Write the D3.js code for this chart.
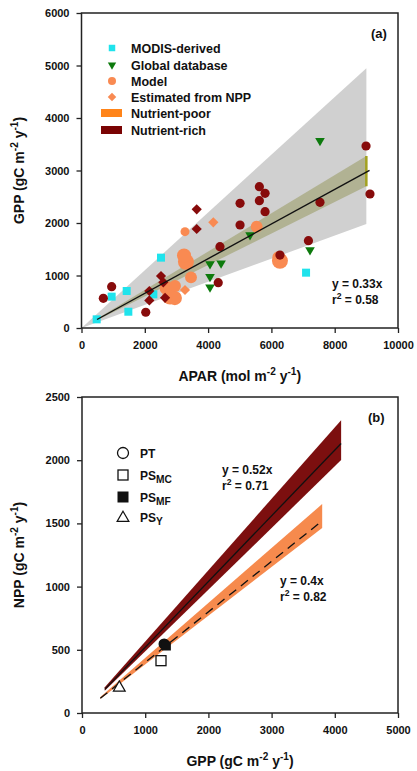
<!DOCTYPE html>
<html>
<head>
<meta charset="utf-8">
<script src="https://cdn.jsdelivr.net/npm/d3@7"></script>
<style>
  body { margin: 0; background: #fff; }
  text { font-family: "Liberation Sans", Arial, sans-serif; font-weight: bold; fill: #111; }
</style>
</head>
<body>
<svg id="chart" width="417" height="771"></svg>
<script>
// ---- panel (a) data: APAR (mol m-2 y-1), GPP (gC m-2 y-1)
const modisPts = [[480, 165], [953, 597], [1428, 705], [1480, 310], [2512, 1340], [2270, 641], [7095, 1054]];
const globalPts = [[7535, 3549], [5325, 1752], [4060, 1200], [4410, 1213], [4060, 958], [4060, 756], [7220, 1467]];
// model, nutrient-poor: [APAR, GPP, n]
const modelPoor = [[3270, 1835, 1], [3300, 1260, 4], [3240, 1380, 3], [3460, 965, 2], [2690, 760, 3],
  [2800, 600, 4], [2950, 570, 3], [2955, 800, 2], [6270, 1280, 4], [6220, 1350, 2], [5535, 1930, 2]];
const modelRich = [[690, 565], [953, 787], [2030, 300], [5620, 2692], [5800, 2565], [5620, 2425], [5800, 2216],
  [5010, 2375], [5010, 1962], [4375, 1549], [4320, 863], [6270, 1390], [7170, 1663], [7535, 2394],
  [9115, 2552], [8990, 3467]];
const nppPoor = [[4165, 2013], [3270, 724]];
const nppRich = [[3640, 2261], [3640, 1886], [2512, 990], [2585, 870], [2143, 705], [2143, 525], [2640, 575]];
const fitA = { slope: 0.33, r2: 0.58, from: 490, to: 9100 };
const predA = [0.22, 0.55];   // prediction fan slopes
const ciA = [0.30, 0.364];    // confidence band slopes
const bandEndA = 9000;

// ---- panel (b) data: GPP, NPP
const ptPts = [[1300, 545]];
const psMC = [[1250, 414]];
const psMF = [[1335, 530]];
const psY = [[590, 208]];
const fitRich = { slope: 0.52, r2: 0.71, from: 360, to: 4100, ci: [0.488, 0.565] };
const fitPoor = { slope: 0.4, r2: 0.82, from: 290, to: 3800, ci: [0.385, 0.435] };

const xTicksA = [0, 2000, 4000, 6000, 8000, 10000];
const yTicksA = [0, 1000, 2000, 3000, 4000, 5000, 6000];
const xTicksB = [0, 1000, 2000, 3000, 4000, 5000];
const yTicksB = [0, 500, 1000, 1500, 2000, 2500];

const col = {
  cyan: "#1fe3ec", green: "#0d7a0d", orange: "#f98a52", dark: "#870b0b",
  poorRect: "#ff8419", richRect: "#7a0303", gray: "#d0d0d0", olive: "#b1b293", oliveBar: "#a3a21f",
  richBand: "#7c0f0f", poorBand: "#f68a4d"
};

const svg = d3.select("#chart");

const xA = d3.scaleLinear().domain([0, 10000]).range([81.5, 398]);
const yA = d3.scaleLinear().domain([0, 6000]).range([328, 13]);
const xB = d3.scaleLinear().domain([0, 5000]).range([82, 398]);
const yB = d3.scaleLinear().domain([0, 2500]).range([713, 397]);

// text with super/subscripts: parts = [[str, "n"|"sup"|"sub"], ...]
function richText(sel, parts, size) {
  let shift = 0;
  parts.forEach(([s, k]) => {
    const target = k === "sup" ? -size * 0.4 : k === "sub" ? size * 0.3 : 0;
    sel.append("tspan")
      .attr("dy", target - shift)
      .attr("font-size", k === "n" ? size : k === "sub" ? size * 0.85 : size * 0.72)
      .text(s);
    shift = target;
  });
}

function drawAxes(x, y, xt, yt, xTitle, yTitle) {
  const g = svg.append("g");
  g.append("g")
    .attr("transform", `translate(0,${y.range()[0]})`)
    .call(d3.axisBottom(x).tickValues(xt).tickSize(5).tickPadding(8).tickFormat(d3.format("d")))
    .call(a => a.select(".domain").remove());
  g.append("g")
    .attr("transform", `translate(${x.range()[0]},0)`)
    .call(d3.axisLeft(y).tickValues(yt).tickSize(5).tickPadding(7).tickFormat(d3.format("d")))
    .call(a => a.select(".domain").remove());
  g.selectAll(".tick text").attr("font-size", 11).attr("font-family", "Liberation Sans, Arial").attr("font-weight", "bold").attr("fill", "#111");
  g.selectAll(".tick line").attr("stroke", "#222").attr("stroke-width", 1.3);
  svg.append("rect")
    .attr("x", x.range()[0]).attr("y", y.range()[1])
    .attr("width", x.range()[1] - x.range()[0]).attr("height", y.range()[0] - y.range()[1])
    .attr("fill", "none").attr("stroke", "#222").attr("stroke-width", 1.5);

  const xt1 = svg.append("text")
    .attr("x", (x.range()[0] + x.range()[1]) / 2).attr("y", y.range()[0] + 53)
    .attr("text-anchor", "middle");
  richText(xt1, xTitle, 14);
  const cy = (y.range()[0] + y.range()[1]) / 2;
  const yt1 = svg.append("text")
    .attr("transform", `translate(24,${cy}) rotate(-90)`)
    .attr("text-anchor", "middle");
  richText(yt1, yTitle, 14);
}

const unitsGC = [[" (gC m", "n"], ["-2", "sup"], [" y", "n"], ["-1", "sup"], [")", "n"]];

// ================= panel (a)
const gA = svg.append("g");
// prediction fan
gA.append("path")
  .attr("d", d3.line()([[xA(0), yA(0)], [xA(bandEndA), yA(predA[1] * bandEndA)], [xA(bandEndA), yA(predA[0] * bandEndA)]]))
  .attr("fill", col.gray);
// confidence band
gA.append("path")
  .attr("d", d3.area().x(d => xA(d)).y0(d => yA(ciA[0] * d)).y1(d => yA(ciA[1] * d))([fitA.from, bandEndA]))
  .attr("fill", col.olive);
gA.append("line")
  .attr("x1", xA(bandEndA)).attr("x2", xA(bandEndA))
  .attr("y1", yA(ciA[0] * bandEndA)).attr("y2", yA(ciA[1] * bandEndA))
  .attr("stroke", col.oliveBar).attr("stroke-width", 2.5);

const squarePath = d3.symbol(d3.symbolSquare, 64)();
const diamondPath = d3.symbol(d3.symbolSquare, 52)();
const triPath = d3.symbol(d3.symbolTriangle, 40)();
const rN = d3.scaleSqrt().domain([1, 4]).range([4.5, 8]);

gA.selectAll(".modis").data(modisPts).join("path")
  .attr("d", squarePath).attr("transform", d => `translate(${xA(d[0])},${yA(d[1])})`).attr("fill", col.cyan);
gA.selectAll(".glob").data(globalPts).join("path")
  .attr("d", triPath).attr("transform", d => `translate(${xA(d[0])},${yA(d[1]) - 1}) rotate(180)`).attr("fill", col.green);
gA.selectAll(".mpoor").data(modelPoor).join("circle")
  .attr("cx", d => xA(d[0])).attr("cy", d => yA(d[1])).attr("r", d => rN(d[2])).attr("fill", col.orange);
gA.selectAll(".npoor").data(nppPoor).join("path")
  .attr("d", diamondPath).attr("transform", d => `translate(${xA(d[0])},${yA(d[1])}) rotate(45)`).attr("fill", col.orange);
gA.selectAll(".mrich").data(modelRich).join("circle")
  .attr("cx", d => xA(d[0])).attr("cy", d => yA(d[1])).attr("r", 4.6).attr("fill", col.dark);
gA.selectAll(".nrich").data(nppRich).join("path")
  .attr("d", diamondPath).attr("transform", d => `translate(${xA(d[0])},${yA(d[1])}) rotate(45)`).attr("fill", col.dark);

gA.append("line")
  .attr("x1", xA(fitA.from)).attr("y1", yA(fitA.slope * fitA.from))
  .attr("x2", xA(fitA.to)).attr("y2", yA(fitA.slope * fitA.to))
  .attr("stroke", "#111").attr("stroke-width", 1.4);

// legend (a)
const legA = [
  { label: "MODIS-derived", kind: "square", c: col.cyan },
  { label: "Global database", kind: "tri", c: col.green },
  { label: "Model", kind: "circle", c: col.orange },
  { label: "Estimated from NPP", kind: "diamond", c: col.orange },
  { label: "Nutrient-poor", kind: "rect", c: col.poorRect },
  { label: "Nutrient-rich", kind: "rect", c: col.richRect }
];
const legRowsA = [48, 65, 81, 97, 113, 130];
legA.forEach((d, i) => {
  const y = legRowsA[i];
  if (d.kind === "square") gA.append("path").attr("d", d3.symbol(d3.symbolSquare, 42)()).attr("transform", `translate(112,${y})`).attr("fill", d.c);
  if (d.kind === "tri") gA.append("path").attr("d", d3.symbol(d3.symbolTriangle, 30)()).attr("transform", `translate(112,${y}) rotate(180)`).attr("fill", d.c);
  if (d.kind === "circle") gA.append("circle").attr("cx", 112).attr("cy", y).attr("r", 4).attr("fill", d.c);
  if (d.kind === "diamond") gA.append("path").attr("d", d3.symbol(d3.symbolSquare, 36)()).attr("transform", `translate(112,${y}) rotate(45)`).attr("fill", d.c);
  if (d.kind === "rect") gA.append("rect").attr("x", 101).attr("y", y - 4).attr("width", 21).attr("height", 8).attr("fill", d.c);
  gA.append("text").attr("x", 131).attr("y", y + 4.5).attr("font-size", 12.5).text(d.label);
});
gA.append("text").attr("x", 371).attr("y", 38).attr("font-size", 13).text("(a)");
gA.append("text").attr("x", 332).attr("y", 288).attr("font-size", 12).text(`y = ${fitA.slope}x`);
richText(gA.append("text").attr("x", 332).attr("y", 304), [["r", "n"], ["2", "sup"], [` = ${fitA.r2}`, "n"]], 12);

drawAxes(xA, yA, xTicksA, yTicksA, [["APAR (mol m", "n"], ["-2", "sup"], [" y", "n"], ["-1", "sup"], [")", "n"]],
  [["GPP", "n"]].concat(unitsGC));

// ================= panel (b)
const gB = svg.append("g");
function fitBand(f, fill, dash) {
  gB.append("path")
    .attr("d", d3.area().x(d => xB(d)).y0(d => yB(f.ci[0] * d)).y1(d => yB(f.ci[1] * d))([f.from, f.to]))
    .attr("fill", fill);
  gB.append("line")
    .attr("x1", xB(f.from)).attr("y1", yB(f.slope * f.from))
    .attr("x2", xB(f.to)).attr("y2", yB(f.slope * f.to))
    .attr("stroke", "#111").attr("stroke-width", 1.3)
    .attr("stroke-dasharray", dash);
}
fitBand(fitRich, col.richBand, null);
fitBand(fitPoor, col.poorBand, "9,6");

gB.selectAll(".mc").data(psMC).join("rect")
  .attr("x", d => xB(d[0]) - 5).attr("y", d => yB(d[1]) - 5).attr("width", 10).attr("height", 10)
  .attr("fill", "#fff").attr("stroke", "#111").attr("stroke-width", 1.3);
gB.selectAll(".y").data(psY).join("path")
  .attr("d", d3.symbol(d3.symbolTriangle, 60)()).attr("transform", d => `translate(${xB(d[0])},${yB(d[1]) + 1})`)
  .attr("fill", "#fff").attr("stroke", "#111").attr("stroke-width", 1.2);
gB.selectAll(".pt").data(ptPts).join("circle")
  .attr("cx", d => xB(d[0])).attr("cy", d => yB(d[1])).attr("r", 5)
  .attr("fill", "#111").attr("stroke", "#111").attr("stroke-width", 1.3);
gB.selectAll(".mf").data(psMF).join("rect")
  .attr("x", d => xB(d[0]) - 4.5).attr("y", d => yB(d[1]) - 4.5).attr("width", 9).attr("height", 9)
  .attr("fill", "#111");

// legend (b)
const legB = [
  { parts: [["PT", "n"]], kind: "circle" },
  { parts: [["PS", "n"], ["MC", "sub"]], kind: "open" },
  { parts: [["PS", "n"], ["MF", "sub"]], kind: "filled" },
  { parts: [["PS", "n"], ["Y", "sub"]], kind: "tri" }
];
const legRowsB = [453, 475, 497, 517];
legB.forEach((d, i) => {
  const y = legRowsB[i];
  if (d.kind === "circle") gB.append("circle").attr("cx", 123).attr("cy", y).attr("r", 5.5).attr("fill", "#fff").attr("stroke", "#111").attr("stroke-width", 1.3);
  if (d.kind === "open") gB.append("rect").attr("x", 118).attr("y", y - 5).attr("width", 10).attr("height", 10).attr("fill", "#fff").attr("stroke", "#111").attr("stroke-width", 1.3);
  if (d.kind === "filled") gB.append("rect").attr("x", 117.5).attr("y", y - 5.5).attr("width", 11).attr("height", 11).attr("fill", "#111");
  if (d.kind === "tri") gB.append("path").attr("d", d3.symbol(d3.symbolTriangle, 60)()).attr("transform", `translate(123,${y + 1})`).attr("fill", "#fff").attr("stroke", "#111").attr("stroke-width", 1.2);
  richText(gB.append("text").attr("x", 140).attr("y", y + 4.5), d.parts, 12);
});
gB.append("text").attr("x", 368).attr("y", 422).attr("font-size", 13).text("(b)");
gB.append("text").attr("x", 222).attr("y", 474).attr("font-size", 12).text(`y = ${fitRich.slope}x`);
richText(gB.append("text").attr("x", 222).attr("y", 490), [["r", "n"], ["2", "sup"], [` = ${fitRich.r2}`, "n"]], 12);
gB.append("text").attr("x", 280).attr("y", 585).attr("font-size", 12).text(`y = ${fitPoor.slope}x`);
richText(gB.append("text").attr("x", 280).attr("y", 601), [["r", "n"], ["2", "sup"], [` = ${fitPoor.r2}`, "n"]], 12);

drawAxes(xB, yB, xTicksB, yTicksB, [["GPP", "n"]].concat(unitsGC), [["NPP", "n"]].concat(unitsGC));
</script>
</body>
</html>
